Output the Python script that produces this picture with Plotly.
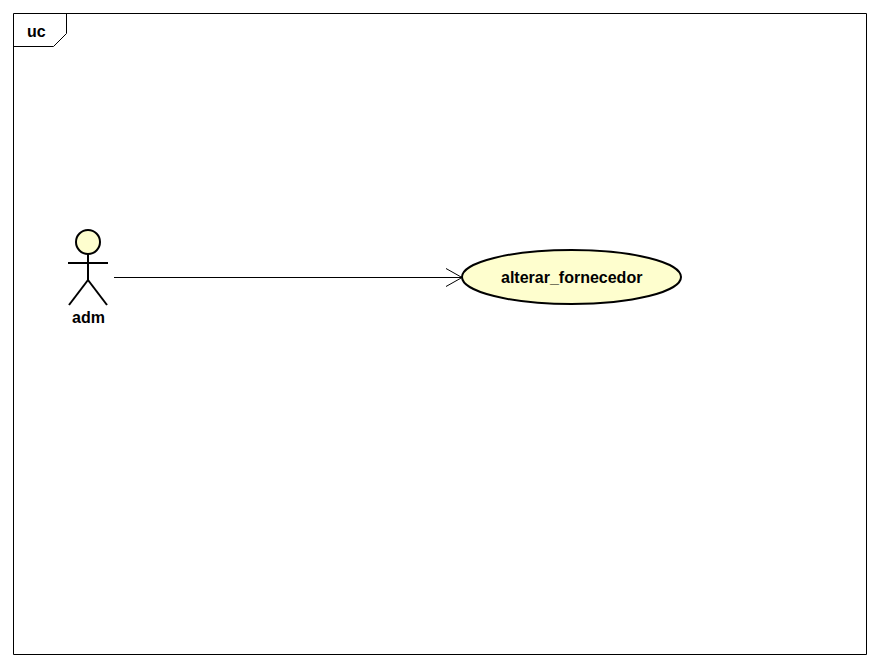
import plotly.graph_objects as go

# diagram content
frame_label = "uc"
actors = ["adm"]
use_cases = ["alterar_fornecedor"]
associations = [("adm", "alterar_fornecedor")]

W, H = 880, 666
OFF = 8  # page body margin in the browser
FILL = "#FEFECE"
FONT = "Liberation Sans, Arial, sans-serif"

# placement of elements (pixels, y downward)
frame = dict(x0=13.5, y0=13.5, x1=866.5, y1=654.5)
actor_pos = {"adm": (88, 242)}
case_pos = {"alterar_fornecedor": (571.5, 277, 109.5, 27)}

fig = go.Figure()
shapes = []
annotations = []

def line(x0, y0, x1, y1, w=1):
	shapes.append(dict(type="line", x0=x0, y0=y0, x1=x1, y1=y1,
		line=dict(color="black", width=w)))

# frame + tab
shapes.append(dict(type="rect", x0=frame["x0"], y0=frame["y0"], x1=frame["x1"], y1=frame["y1"],
	line=dict(color="black", width=1)))
shapes.append(dict(type="path", path="M 13.5 46.5 L 53.5 46.5 L 66.5 33.5 L 66.5 13.5",
	line=dict(color="black", width=1)))
annotations.append(dict(x=36, y=31, text="<b>%s</b>" % frame_label, showarrow=False,
	font=dict(family=FONT, size=16, color="black")))

# actors
for name in actors:
	cx, cy = actor_pos[name]
	r = 12
	shapes.append(dict(type="circle", x0=cx-r, y0=cy-r, x1=cx+r, y1=cy+r,
		fillcolor=FILL, line=dict(color="black", width=2)))
	line(cx, cy+r, cx, cy+38, 2)
	line(cx-20, cy+21, cx+20, cy+21, 2)
	line(cx, cy+38, cx-19, cy+63, 2)
	line(cx, cy+38, cx+19, cy+63, 2)
	annotations.append(dict(x=cx, y=cy+75, text="<b>%s</b>" % name, showarrow=False,
		font=dict(family=FONT, size=16, color="black")))

# use cases
for name in use_cases:
	cx, cy, rx, ry = case_pos[name]
	shapes.append(dict(type="circle", x0=cx-rx, y0=cy-ry, x1=cx+rx, y1=cy+ry,
		fillcolor=FILL, line=dict(color="black", width=2)))
	annotations.append(dict(x=cx, y=cy, text="<b>%s</b>" % name, showarrow=False,
		font=dict(family=FONT, size=16, color="black")))

# associations with open arrowhead
for a, u in associations:
	ax, ay = actor_pos[a]
	cx, cy, rx, ry = case_pos[u]
	sx, ex, y = ax + 26, cx - rx, cy + 0.5
	line(sx, y, ex, y, 1)
	line(ex-16, y-9, ex, y, 1)
	line(ex-16, y+9, ex, y, 1)

fig.update_layout(
	width=W, height=H,
	margin=dict(l=0, r=0, t=0, b=0),
	paper_bgcolor="white", plot_bgcolor="white",
	shapes=shapes, annotations=annotations,
	showlegend=False,
)
fig.update_xaxes(range=[OFF, W+OFF], visible=False, fixedrange=True)
fig.update_yaxes(range=[H+OFF, OFF], visible=False, fixedrange=True)
fig.write_html("out.html")
